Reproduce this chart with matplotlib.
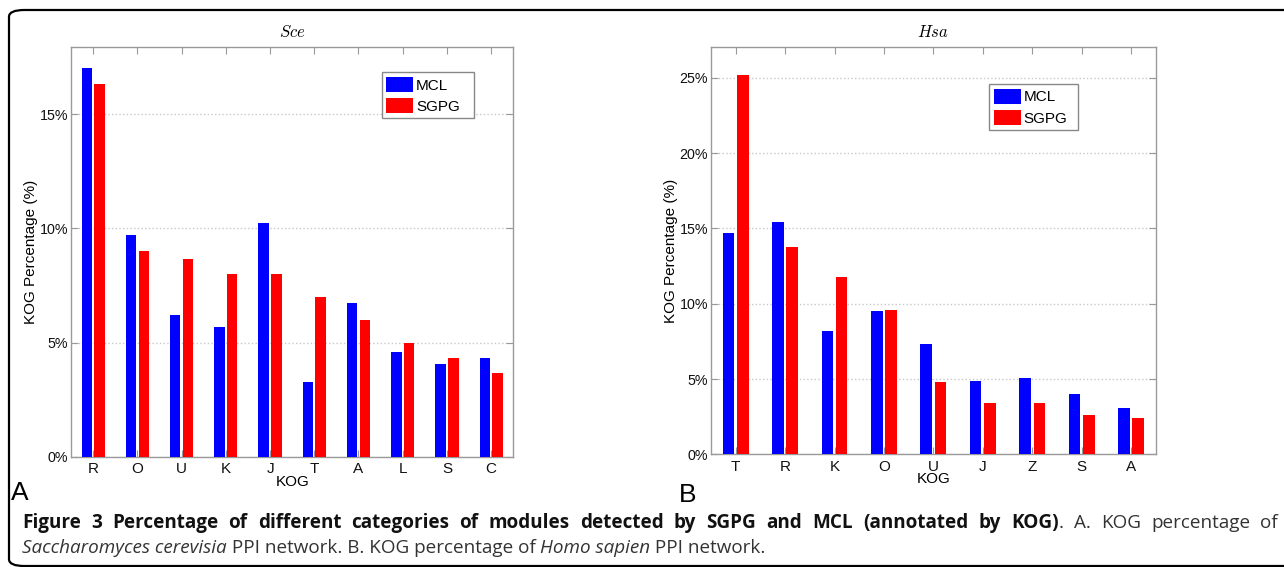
import matplotlib
matplotlib.use("Agg")
import matplotlib.pyplot as plt
import numpy as np
from matplotlib.patches import FancyBboxPatch
from matplotlib.ticker import FuncFormatter, MultipleLocator

plt.rcParams['mathtext.fontset'] = 'cm'
NARROW = ['Liberation Sans Narrow', 'Liberation Sans', 'DejaVu Sans']
plt.rcParams['font.family'] = NARROW

# ---- data ----
sce_categories = ['R', 'O', 'U', 'K', 'J', 'T', 'A', 'L', 'S', 'C']
sce_mcl = [17.0, 9.7, 6.2, 5.7, 10.25, 3.25, 6.75, 4.6, 4.05, 4.3]
sce_sgpg = [16.3, 9.0, 8.65, 8.0, 8.0, 7.0, 6.0, 5.0, 4.3, 3.65]

hsa_categories = ['T', 'R', 'K', 'O', 'U', 'J', 'Z', 'S', 'A']
hsa_mcl = [14.7, 15.4, 8.2, 9.55, 7.35, 4.9, 5.1, 4.0, 3.1]
hsa_sgpg = [25.2, 13.8, 11.8, 9.6, 4.8, 3.4, 3.4, 2.6, 2.4]

series_names = ['MCL', 'SGPG']
series_colors = ['#0000ff', '#ff0000']

W, H = 1284, 567
fig = plt.figure(figsize=(W / 100, H / 100), dpi=100)


def px_axes(x0, y0, x1, y1):
    return fig.add_axes([x0 / W, 1 - y1 / H, (x1 - x0) / W, (y1 - y0) / H])


def draw_panel(ax, cats, mcl, sgpg, ymax, title, legend_box):
    x = np.arange(1, len(cats) + 1)
    bw = 0.235
    off = 0.145
    ax.bar(x - off, mcl, bw, color=series_colors[0], linewidth=0,
           label=series_names[0], zorder=3)
    ax.bar(x + off, sgpg, bw, color=series_colors[1], linewidth=0,
           label=series_names[1], zorder=3)
    ax.set_xlim(0.5, len(cats) + 0.5)
    ax.set_ylim(0, ymax)
    ax.set_xticks(x)
    ax.set_xticklabels(cats)
    ax.yaxis.set_major_locator(MultipleLocator(5))
    ax.yaxis.set_major_formatter(FuncFormatter(lambda v, p: f"{v:.0f}%"))
    ax.tick_params(axis='both', direction='in', top=True, right=True,
                   length=5, color='#999999', labelcolor='#111111')
    ax.tick_params(axis='x', pad=4, labelsize=11)
    ax.tick_params(axis='y', pad=2, labelsize=10.3)
    ax.grid(axis='y', linestyle=':', color='#c8c8c8', linewidth=1.0, zorder=0)
    for s in ax.spines.values():
        s.set_color('#9a9a9a')
        s.set_linewidth(1.0)
    ax.set_title(title, fontsize=12, pad=7)
    ax.set_xlabel('KOG', fontsize=11, labelpad=-1)
    ax.set_ylabel('KOG Percentage (%)', fontsize=11, labelpad=1,
                  family=['Liberation Sans', 'DejaVu Sans'])
    leg = ax.legend(loc='upper left', bbox_to_anchor=legend_box, mode='expand',
                    borderaxespad=0, fontsize=11, fancybox=False,
                    handlelength=1.75, handleheight=1.15, handletextpad=0.2,
                    labelspacing=0.35, borderpad=0.3, framealpha=1)
    leg.get_frame().set_edgecolor('#888888')
    leg.get_frame().set_linewidth(1.0)


ax1 = px_axes(71, 47, 513.3, 456.7)
draw_panel(ax1, sce_categories, sce_mcl, sce_sgpg, 17.94, r'$Sce$',
           (0.7025, 0.8177, 0.2087, 0.1203))

ax2 = px_axes(711, 47, 1155.7, 454.3)
draw_panel(ax2, hsa_categories, hsa_mcl, hsa_sgpg, 27.05, r'$Hsa$',
           (0.6258, 0.788, 0.1988, 0.121))

# panel letters
fig.text(11 / W, 1 - 500 / H, 'A', fontsize=19, ha='left', va='baseline')
fig.text(679 / W, 1 - 502 / H, 'B', fontsize=19, ha='left', va='baseline')

# border
border = FancyBboxPatch((9 / W, 1 - 566 / H), (1320 - 9) / W, (566 - 10) / H,
                        boxstyle='round,pad=0,rounding_size=0.012',
                        transform=fig.transFigure, fill=False,
                        edgecolor='black', linewidth=1.6, clip_on=False)
fig.add_artist(border)

# caption
cap_font = ['Open Sans', 'DejaVu Sans']
cap_size = 13.6
renderer = fig.canvas.get_renderer()
DARK = '#111111'
GREY = '#333333'


def make_text(x, y, txt, weight, style, color):
    return fig.text(x / W, 1 - y / H, txt, fontsize=cap_size, family=cap_font,
                    fontweight=weight, fontstyle=style, color=color,
                    ha='left', va='baseline')


def width_of(t):
    return t.get_window_extent(renderer=renderer).width


def justified_line(x0, x1, y, pieces):
    words = []
    cur = []
    for txt, wgt, sty, col in pieces:
        parts = txt.split(' ')
        for i, p in enumerate(parts):
            if i > 0:
                if cur:
                    words.append(cur)
                cur = []
            if p:
                cur.append((p, wgt, sty, col))
    if cur:
        words.append(cur)
    artists = []
    total = 0
    for w in words:
        row = []
        for p in w:
            t = make_text(0, y, *p)
            row.append(t)
            total += width_of(t)
        artists.append(row)
    gap = (x1 - x0 - total) / (len(words) - 1)
    x = x0
    for row in artists:
        for t in row:
            t.set_x(x / W)
            x += width_of(t)
        x += gap


def text_run(x_px, y_px, parts):
    x = x_px
    for txt, weight, style, color in parts:
        t = make_text(x, y_px, txt, weight, style, color)
        x += width_of(t)


justified_line(22, 1278, 528, [
    ('Figure 3 Percentage of different categories of modules detected by SGPG and MCL (annotated by KOG)',
     'bold', 'normal', DARK),
    ('. A. KOG percentage of', 'normal', 'normal', GREY),
])
text_run(22, 553, [
    ('Saccharomyces cerevisia', 'normal', 'italic', GREY),
    (' PPI network. B. KOG percentage of ', 'normal', 'normal', GREY),
    ('Homo sapien', 'normal', 'italic', GREY),
    (' PPI network.', 'normal', 'normal', GREY),
])

fig.savefig('out.png', dpi=100)
